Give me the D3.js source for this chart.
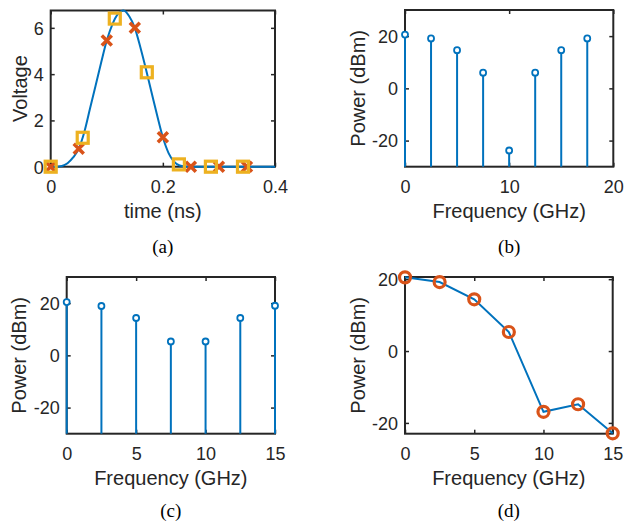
<!DOCTYPE html>
<html>
<head>
<meta charset="utf-8">
<script src="https://cdn.jsdelivr.net/npm/d3@7"></script>
<style>
  html, body { margin: 0; padding: 0; background: #fff; }
  svg { display: block; }
  .tick text { font-family: "Liberation Sans", Arial, sans-serif; font-size: 18px; fill: #262626; }
  .lab { font-family: "Liberation Sans", Arial, sans-serif; font-size: 20px; fill: #262626; }
  .cap { font-family: "Liberation Serif", "Times New Roman", serif; font-size: 19px; fill: #000; }
</style>
</head>
<body>
<svg id="fig" width="629" height="522"></svg>
<script>
// (a) time-domain pulse and its two sample sets
const pulseTime = [0, 0.01, 0.02, 0.03, 0.04, 0.05, 0.06, 0.07, 0.08, 0.09, 0.10,
                   0.11, 0.12, 0.13, 0.14, 0.15, 0.16, 0.17, 0.18, 0.19, 0.20,
                   0.21, 0.22, 0.23, 0.24, 0.25, 0.26, 0.28, 0.30, 0.32, 0.34, 0.36, 0.38, 0.40];
const pulseVolt = [0, 0, 0.03, 0.15, 0.4, 0.78, 1.5, 2.5, 3.5, 4.5, 5.45,
                   6.15, 6.6, 6.75, 6.5, 6.0, 5.15, 4.2, 3.2, 2.2, 1.27,
                   0.6, 0.22, 0.05, 0.01, 0, 0, 0, 0, 0, 0, 0, 0, 0];
const sampleTimeA = [0, 0.05, 0.10, 0.15, 0.20, 0.25, 0.30, 0.35];
const sampleVoltA = [0, 0.78, 5.45, 6.0, 1.27, 0, 0, 0];
const sampleTimeB = [0, 0.0571, 0.1143, 0.1714, 0.2286, 0.2857, 0.3429];
const sampleVoltB = [0, 1.25, 6.4, 4.08, 0.1, 0, 0];
const timeTicks = [0, 0.2, 0.4];
const voltTicks = [0, 2, 4, 6];

// (b) spectrum sampled to 17.5 GHz
const freqB = [0, 2.5, 5, 7.5, 10, 12.5, 15, 17.5];
const powerB = [20.6, 19.1, 14.6, 6.0, -23.8, 6.0, 14.6, 19.1];
const freqTicksB = [0, 10, 20];

// (c) spectrum sampled to 15 GHz
const freqC = [0, 2.5, 5, 7.5, 10, 12.5, 15];
const powerC = [20.4, 18.9, 14.3, 5.3, 5.3, 14.3, 19.0];

// (d) power vs frequency
const freqD = [0, 2.5, 5, 7.5, 10, 12.5, 15];
const powerD = [20.5, 19.2, 14.4, 5.3, -16.9, -14.8, -22.9];

const freqTicks15 = [0, 5, 10, 15];
const powerTicks = [-20, 0, 20];

const BLUE = "#0072BD", ORANGE = "#D95319", YELLOW = "#EDB120", AX = "#262626";

const svg = d3.select("#fig");
svg.append("rect").attr("width", 629).attr("height", 522).attr("fill", "#fff");

function panel(opt) {
  const g = svg.append("g");
  const x = d3.scaleLinear().domain(opt.xDomain).range([opt.left, opt.right]);
  const y = d3.scaleLinear().domain(opt.yDomain).range([opt.bottom, opt.top]);
  const tl = 4;
  const fmt = opt.xFormat || (d => String(d));
  const axB = g.append("g").attr("transform", `translate(0,${opt.bottom})`)
    .call(d3.axisBottom(x).tickValues(opt.xTicks).tickSizeInner(-tl).tickSizeOuter(0).tickPadding(14).tickFormat(fmt));
  const axT = g.append("g").attr("transform", `translate(0,${opt.top})`)
    .call(d3.axisTop(x).tickValues(opt.xTicks).tickSizeInner(-tl).tickSizeOuter(0).tickFormat(""));
  const axL = g.append("g").attr("transform", `translate(${opt.left},0)`)
    .call(d3.axisLeft(y).tickValues(opt.yTicks).tickSizeInner(-tl).tickSizeOuter(0).tickPadding(7).tickFormat(d => String(d).replace("−", "-")));
  const axR = g.append("g").attr("transform", `translate(${opt.right},0)`)
    .call(d3.axisRight(y).tickValues(opt.yTicks).tickSizeInner(-tl).tickSizeOuter(0).tickFormat(""));
  [axB, axT, axL, axR].forEach(a => {
    a.select(".domain").remove();
    a.selectAll(".tick line").attr("stroke", AX).attr("stroke-width", 1.5);
  });
  axB.selectAll(".tick text").attr("dy", null).attr("y", 26);
  axL.selectAll(".tick text").attr("dy", "0.35em");
  g.append("rect")
    .attr("x", opt.left).attr("y", opt.top)
    .attr("width", opt.right - opt.left).attr("height", opt.bottom - opt.top)
    .attr("fill", "none").attr("stroke", AX).attr("stroke-width", 2);
  g.append("text").attr("class", "lab").attr("text-anchor", "middle")
    .attr("x", (opt.left + opt.right) / 2).attr("y", opt.bottom + 51).text(opt.xLabel);
  g.append("text").attr("class", "lab").attr("text-anchor", "middle")
    .attr("transform", `translate(${opt.left - opt.yLabelOff},${(opt.top + opt.bottom) / 2}) rotate(-90)`)
    .text(opt.yLabel);
  g.append("text").attr("class", "cap").attr("text-anchor", "middle")
    .attr("x", (opt.left + opt.right) / 2).attr("y", opt.capY).text(opt.caption);
  return { g, x, y };
}

// ---- (a) ----
{
  const { g, x, y } = panel({
    left: 50.7, right: 275, top: 10.5, bottom: 166.7,
    xDomain: [0, 0.4], yDomain: [0, 6.75], xTicks: timeTicks, yTicks: voltTicks,
    xLabel: "time (ns)", yLabel: "Voltage", yLabelOff: 24, caption: "(a)", capY: 253
  });
  const pts = pulseTime.map((t, i) => [t, pulseVolt[i]]);
  g.append("path").datum(pts)
    .attr("d", d3.line().x(d => x(d[0])).y(d => y(d[1])).curve(d3.curveMonotoneX))
    .attr("fill", "none").attr("stroke", BLUE).attr("stroke-width", 2);
  const s = 5;
  g.selectAll(".xm").data(sampleTimeA.map((t, i) => [t, sampleVoltA[i]])).join("path")
    .attr("d", d => `M${x(d[0]) - s},${y(d[1]) - s}L${x(d[0]) + s},${y(d[1]) + s}M${x(d[0]) - s},${y(d[1]) + s}L${x(d[0]) + s},${y(d[1]) - s}`)
    .attr("stroke", ORANGE).attr("stroke-width", 3.5).attr("fill", "none");
  const h = 5.5;
  g.selectAll(".sq").data(sampleTimeB.map((t, i) => [t, sampleVoltB[i]])).join("rect")
    .attr("x", d => x(d[0]) - h).attr("y", d => y(d[1]) - h)
    .attr("width", 2 * h).attr("height", 2 * h)
    .attr("fill", "none").attr("stroke", YELLOW).attr("stroke-width", 3.2);
}

// stem plot helper for (b) and (c)
function stems(p, freq, power, base) {
  const data = freq.map((f, i) => [f, power[i]]);
  p.g.selectAll(".stem").data(data).join("line")
    .attr("x1", d => p.x(d[0])).attr("x2", d => p.x(d[0]))
    .attr("y1", d => p.y(d[1])).attr("y2", p.y(base))
    .attr("stroke", BLUE).attr("stroke-width", 2);
  p.g.selectAll(".mk").data(data).join("circle")
    .attr("cx", d => p.x(d[0])).attr("cy", d => p.y(d[1])).attr("r", 3)
    .attr("fill", "#fff").attr("stroke", BLUE).attr("stroke-width", 1.8);
}

// ---- (b) ----
{
  const p = panel({
    left: 405, right: 613.3, top: 10, bottom: 166.7,
    xDomain: [0, 20], yDomain: [-30, 30], xTicks: freqTicksB, yTicks: powerTicks,
    xLabel: "Frequency (GHz)", yLabel: "Power (dBm)", yLabelOff: 40.5, caption: "(b)", capY: 253
  });
  stems(p, freqB, powerB, -30);
}

// ---- (c) ----
{
  const p = panel({
    left: 66.7, right: 275, top: 277, bottom: 433.7,
    xDomain: [0, 15], yDomain: [-30, 30], xTicks: freqTicks15, yTicks: powerTicks,
    xLabel: "Frequency (GHz)", yLabel: "Power (dBm)", yLabelOff: 40.5, caption: "(c)", capY: 517
  });
  stems(p, freqC, powerC, -30);
}

// ---- (d) ----
{
  const p = panel({
    left: 405, right: 612.7, top: 277, bottom: 433.7,
    xDomain: [0, 15], yDomain: [-23, 20.6], xTicks: freqTicks15, yTicks: powerTicks,
    xLabel: "Frequency (GHz)", yLabel: "Power (dBm)", yLabelOff: 40.5, caption: "(d)", capY: 517
  });
  const data = freqD.map((f, i) => [f, powerD[i]]);
  p.g.append("path").datum(data)
    .attr("d", d3.line().x(d => p.x(d[0])).y(d => p.y(d[1])))
    .attr("fill", "none").attr("stroke", BLUE).attr("stroke-width", 2);
  p.g.selectAll(".mk").data(data).join("circle")
    .attr("cx", d => p.x(d[0])).attr("cy", d => p.y(d[1])).attr("r", 5.5)
    .attr("fill", "none").attr("stroke", ORANGE).attr("stroke-width", 3.2);
}
</script>
</body>
</html>
